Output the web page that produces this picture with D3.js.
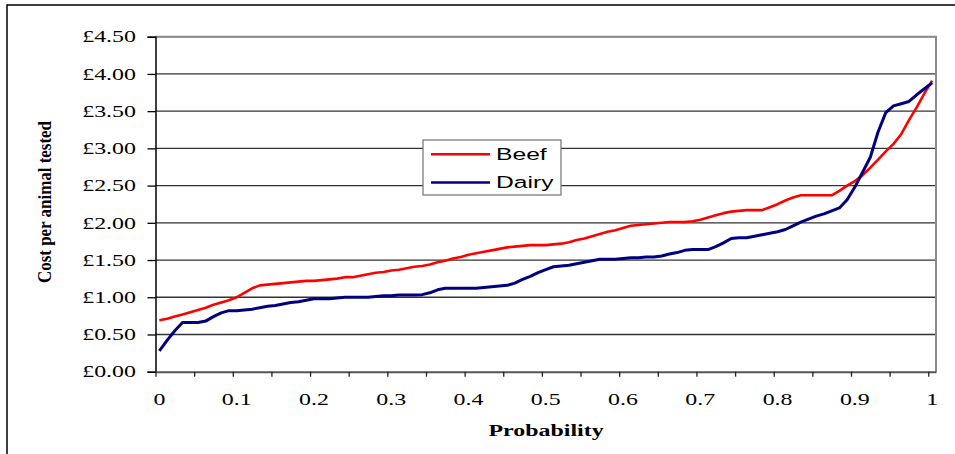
<!DOCTYPE html>
<html><head><meta charset="utf-8">
<script src="https://cdn.jsdelivr.net/npm/d3@7"></script>
<style>html,body{margin:0;padding:0;background:#fff;}svg{display:block;}</style>
</head><body>
<svg id="c" width="955" height="454"></svg>
<script>
// Probability categories 0.00 .. 1.00 (step 0.01)
const probabilities = d3.range(0, 101).map(i => +(i / 100).toFixed(2));
const beef = [0.69,0.71,0.74,0.77,0.80,0.83,0.86,0.90,0.93,0.96,
  1.00,1.06,1.12,1.16,1.17,1.18,1.19,1.20,1.21,1.22,
  1.22,1.23,1.24,1.25,1.27,1.27,1.29,1.31,1.33,1.34,
  1.36,1.37,1.39,1.41,1.42,1.44,1.47,1.49,1.52,1.54,
  1.57,1.59,1.61,1.63,1.65,1.67,1.68,1.69,1.70,1.70,
  1.70,1.71,1.72,1.74,1.77,1.79,1.82,1.85,1.88,1.90,
  1.93,1.96,1.97,1.98,1.99,2.00,2.01,2.01,2.01,2.02,
  2.04,2.07,2.10,2.13,2.15,2.16,2.17,2.17,2.17,2.21,
  2.25,2.30,2.34,2.37,2.37,2.37,2.37,2.37,2.43,2.50,
  2.56,2.64,2.74,2.85,2.96,3.06,3.19,3.38,3.55,3.74,3.91];
const dairy = [0.28,0.42,0.55,0.66,0.66,0.66,0.68,0.74,0.79,0.82,
  0.82,0.83,0.84,0.86,0.88,0.89,0.91,0.93,0.94,0.96,
  0.98,0.98,0.98,0.99,1.00,1.00,1.00,1.00,1.01,1.02,
  1.02,1.03,1.03,1.03,1.035,1.06,1.10,1.12,1.12,1.12,
  1.12,1.12,1.13,1.14,1.15,1.16,1.19,1.24,1.28,1.33,
  1.37,1.41,1.42,1.43,1.45,1.47,1.49,1.51,1.51,1.51,
  1.52,1.53,1.53,1.54,1.54,1.555,1.58,1.60,1.63,1.64,
  1.64,1.64,1.68,1.73,1.79,1.80,1.80,1.82,1.84,1.86,
  1.88,1.91,1.96,2.01,2.05,2.09,2.12,2.16,2.20,2.31,
  2.48,2.68,2.88,3.22,3.48,3.57,3.60,3.63,3.72,3.80,3.88];
const seriesNames = ["Beef", "Dairy"];
const seriesColors = ["#FF0000", "#000080"];
const xTickLabels = ["0","0.1","0.2","0.3","0.4","0.5","0.6","0.7","0.8","0.9","1"];
const yTicks = [0, 0.5, 1, 1.5, 2, 2.5, 3, 3.5, 4, 4.5];

const svg = d3.select("#c");
const L = 155.5, R = 936, T = 36.7, B = 371.7;
const SX = 1.45; // horizontal stretch of the original rendering

const xBand = d3.scaleBand().domain(probabilities).range([L, R]).paddingInner(0).paddingOuter(0);
const xPos = p => xBand(p) + xBand.bandwidth() / 2;
const y = d3.scaleLinear().domain([0, 4.5]).range([B, T]);

// outer chart border
svg.append("path").attr("d", `M7,454 L7,5 L955,5`).attr("fill", "none")
  .attr("stroke", "#000").attr("stroke-width", 1.5);

// gridlines
svg.append("g").selectAll("line").data(yTicks.filter(v => v > 0)).join("line")
  .attr("x1", L).attr("x2", R).attr("y1", d => y(d)).attr("y2", d => y(d))
  .attr("stroke", "#333").attr("stroke-width", 1.3);

// plot border right/top
svg.append("path").attr("d", `M${L},${T} L${R},${T} L${R},${B}`).attr("fill", "none")
  .attr("stroke", "#8a8a8a").attr("stroke-width", 2);

// y axis
const yAxis = d3.axisLeft(y).tickValues(yTicks).tickSize(8).tickFormat("");
const gy = svg.append("g").attr("transform", `translate(${L},0)`).call(yAxis);
gy.select(".domain").attr("stroke", "#000").attr("stroke-width", 1.5);
gy.selectAll(".tick line").attr("stroke", "#000").attr("stroke-width", 1.3);

svg.append("g").selectAll("text").data(yTicks).join("text")
  .attr("transform", d => `translate(136,${y(d) + 5.7}) scale(${SX},1)`)
  .attr("text-anchor", "end")
  .attr("font-family", "'Liberation Serif','Times New Roman',serif")
  .attr("font-size", 16.5).attr("fill", "#000")
  .text(d => "£" + d.toFixed(2));

// x axis: tick marks every 5 categories at category boundaries
const tickIdx = d3.range(0, 101, 5);
const xLin = d3.scaleLinear().domain([0, probabilities.length]).range([L, R]);
const xAxis = d3.axisBottom(xLin).tickValues(tickIdx).tickSize(5).tickFormat("").tickSizeOuter(0);
const gx = svg.append("g").attr("transform", `translate(0,${B})`).call(xAxis);
gx.select(".domain").attr("stroke", "#555").attr("stroke-width", 2);
gx.selectAll(".tick line").attr("stroke", "#222").attr("stroke-width", 1.3);

svg.append("g").selectAll("text").data(xTickLabels).join("text")
  .attr("transform", d => `translate(${xPos(+d)},404.5) scale(${SX},1)`)
  .attr("text-anchor", "middle")
  .attr("font-family", "'Liberation Serif','Times New Roman',serif")
  .attr("font-size", 16.5).attr("fill", "#000")
  .text(d => d);

// axis titles
svg.append("text")
  .attr("transform", `translate(546,436) scale(${SX},1)`)
  .attr("text-anchor", "middle")
  .attr("font-family", "'Liberation Serif','Times New Roman',serif")
  .attr("font-weight", "bold").attr("font-size", 16.5).text("Probability");

svg.append("text")
  .attr("transform", `translate(51,202) scale(1.3,1) rotate(-90)`)
  .attr("text-anchor", "middle")
  .attr("font-family", "'Liberation Serif','Times New Roman',serif")
  .attr("font-weight", "bold").attr("font-size", 14.5)
  .attr("textLength", 162).attr("lengthAdjust", "spacingAndGlyphs")
  .text("Cost per animal tested");

// lines
const line = d3.line().x((d, i) => xPos(probabilities[i])).y(d => y(d));
[beef, dairy].forEach((s, k) => {
  svg.append("path").datum(s).attr("d", line).attr("fill", "none")
    .attr("stroke", seriesColors[k]).attr("stroke-width", k === 0 ? 2.6 : 3)
    .attr("stroke-linejoin", "round");
});

// legend
const lg = svg.append("g");
lg.append("rect").attr("x", 423).attr("y", 140).attr("width", 138).attr("height", 55)
  .attr("fill", "#fff").attr("stroke", "#707070").attr("stroke-width", 1.2);
seriesNames.forEach((n, k) => {
  const yy = 154.3 + k * 28.2;
  lg.append("line").attr("x1", 431).attr("x2", 490).attr("y1", yy).attr("y2", yy)
    .attr("stroke", seriesColors[k]).attr("stroke-width", 2.4);
  lg.append("text").attr("transform", `translate(496,${yy + 5.5}) scale(${SX},1)`)
    .attr("font-family", "'Liberation Sans',Arial,sans-serif").attr("font-size", 17)
    .text(n);
});
</script>
</body></html>
